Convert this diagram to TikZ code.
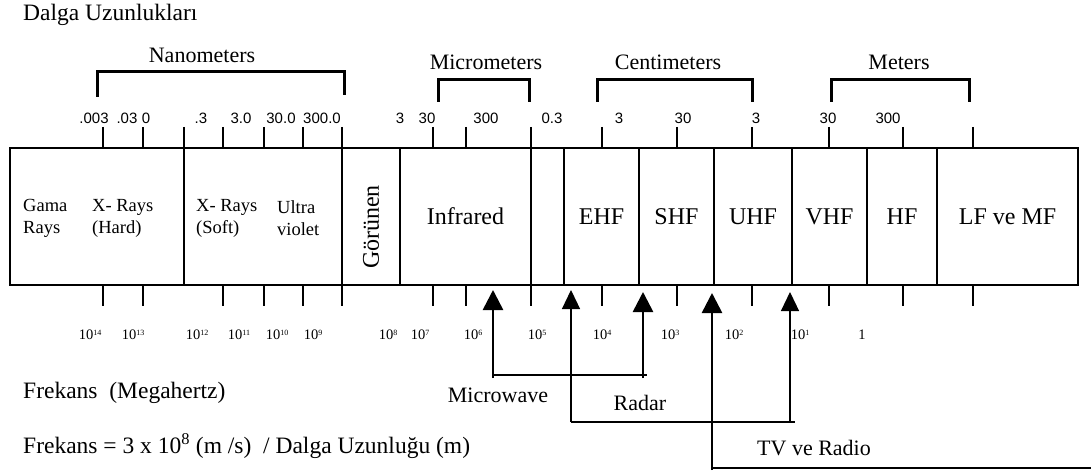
\documentclass[tikz,border=0pt]{standalone}
\usepackage{fontspec}
\setmainfont{Liberation Serif}
\newfontfamily\numfont{Liberation Sans}
\usetikzlibrary{arrows.meta}
\newcommand{\pw}[1]{\raisebox{4.5pt}{\fontsize{8}{8}\selectfont #1}}
\tikzset{
  heading/.style={font=\fontsize{22}{26}\selectfont, inner sep=0pt},
  bigtext/.style={font=\fontsize{23.5}{28}\selectfont, inner sep=0pt},
  small/.style={font=\fontsize{18.5}{22}\selectfont, inner sep=0pt,
    align=left, anchor=west},
  cell/.style={rectangle, draw, line width=1.3pt, minimum height=137pt,
    inner sep=0pt, font=\fontsize{24}{28}\selectfont},
  num/.style={font=\numfont\fontsize{15}{18}\selectfont, inner sep=0pt},
  freqnum/.style={font=\fontsize{14.5}{16}\selectfont, inner sep=0pt},
  tick/.style={line width=1.3pt},
  bracket/.style={line width=3pt},
  bigarrow/.style={-{Triangle[length=20pt,width=20pt]}, line width=2.6pt},
  thinarrow/.style={-{Triangle[length=19pt,width=18pt]}, line width=1.2pt},
  bigline/.style={line width=2.6pt},
  thinline/.style={line width=1.2pt}
}

\begin{document}
\begin{tikzpicture}[x=1pt, y=-1pt]
  \useasboundingbox (0,0) rectangle (1091,473);
  % headings
  \node[bigtext, anchor=west] (dalga) at (23,15) {Dalga Uzunlukları};
  \node[heading] (nano) at (202,55) {Nanometers};
  \node[heading] (micro) at (486,62) {Micrometers};
  \node[heading] (centi) at (668,62) {Centimeters};
  \node[heading] (meter) at (899,62) {Meters};
  \draw[bracket] (97,97) |- (344,72) -- (344,95);
  \draw[bracket] (438,102) |- (529,80) -- (529,102);
  \draw[bracket] (597,102) |- (752,80) -- (752,102);
  \draw[bracket] (831,102) |- (969,80) -- (969,102);
  % wavelength scale
  \foreach \x/\t [count=\i] in {94/.003, 127/.03, 146/0, 201/.3, 241/3.0,
      281/30.0, 322/300.0, 400/3, 427/30, 486/300, 552/0.3, 619/3, 683/30,
      756/3, 828/30, 888/300}
    \node[num] (wl\i) at (\x,118) {\t};
  \foreach \x in {103,143,184,223,264,303,342,433,466,531,602,677,752,829,903,973}
    \draw[tick] (\x,127) -- (\x,148);
  % bands
  \foreach \l/\r/\n/\t in {10/184/hard/{}, 184/342/soft/{}, 342/400/gorunen/{},
      400/531/infrared/Infrared, 531/564/gap/{}, 564/639/ehf/EHF, 639/714/shf/SHF,
      714/792/uhf/UHF, 792/867/vhf/VHF, 867/937/hf/HF, 937/1078/lfmf/{LF ve MF}}
    \node[cell, minimum width={\r-\l}] (\n) at ({(\l+\r)/2},216.5) {\t};
  \node[small] (gama) at (23,218) {Gama\\Rays};
  \node[small] (xhard) at (92,218) {X- Rays\\(Hard)};
  \node[small] (xsoft) at (196,218) {X- Rays\\(Soft)};
  \node[small] (uv) at (277,218) {Ultra\\violet};
  \node[cell, draw=none, rotate=90, minimum height=0pt] (gor) at (371,227) {Görünen};
  % frequency scale
  \foreach \x in {103,143,223,264,303,342,433,466,531,602,677,752,829,903,973}
    \draw[tick] (\x,285) -- (\x,306);
  \foreach \x/\e [count=\i] in {90/14, 133/13, 197/12, 239/11, 277/10, 313/9,
      388/8, 420/7, 473/6, 537/5, 602/4, 670/3, 734/2, 800/1}
    \node[freqnum] (fr\i) at (\x,335) {10\pw{\e}};
  \node[freqnum] (fr15) at (862,335) {1};
  % microwave
  \coordinate (mwL) at (493,378);
  \coordinate (mwR) at (643,378);
  \coordinate (mwtipL) at (493,290);
  \coordinate (mwtipR) at (643,292);
  \draw[bigline] (493,375) -- (647,375);
  \draw[bigarrow] (mwL) -- (mwtipL);
  \draw[bigarrow] (mwR) -- (mwtipR);
  \node[heading] (mwlab) at (498,395) {Microwave};
  % radar
  \coordinate (rdL) at (571,422);
  \coordinate (rdR) at (790,422);
  \coordinate (rdtipL) at (571,290);
  \coordinate (rdtipR) at (790,292);
  \draw[thinline] (rdL) -- (795,422);
  \draw[thinarrow] (rdL) -- (rdtipL);
  \draw[thinarrow] (rdR) -- (rdtipR);
  \node[heading] (rdlab) at (640,403) {Radar};
  % tv and radio
  \coordinate (tvfoot) at (712,470);
  \coordinate (tvtip) at (712,293);
  \coordinate (tvend) at (1091,468);
  \draw[bigline] (712,468) -- (tvend);
  \draw[bigarrow] (tvfoot) -- (tvtip);
  \node[heading] (tvlab) at (814,448) {TV ve Radio};
  % bottom texts
  \node[bigtext, anchor=west] (freq) at (23,393) {Frekans\ \ (Megahertz)};
  \node[bigtext, anchor=west] (formula) at (23,446)
    {Frekans = 3 x 10\textsuperscript{8} (m /s)\ \ / Dalga Uzunluğu (m)};
\end{tikzpicture}
\end{document}
